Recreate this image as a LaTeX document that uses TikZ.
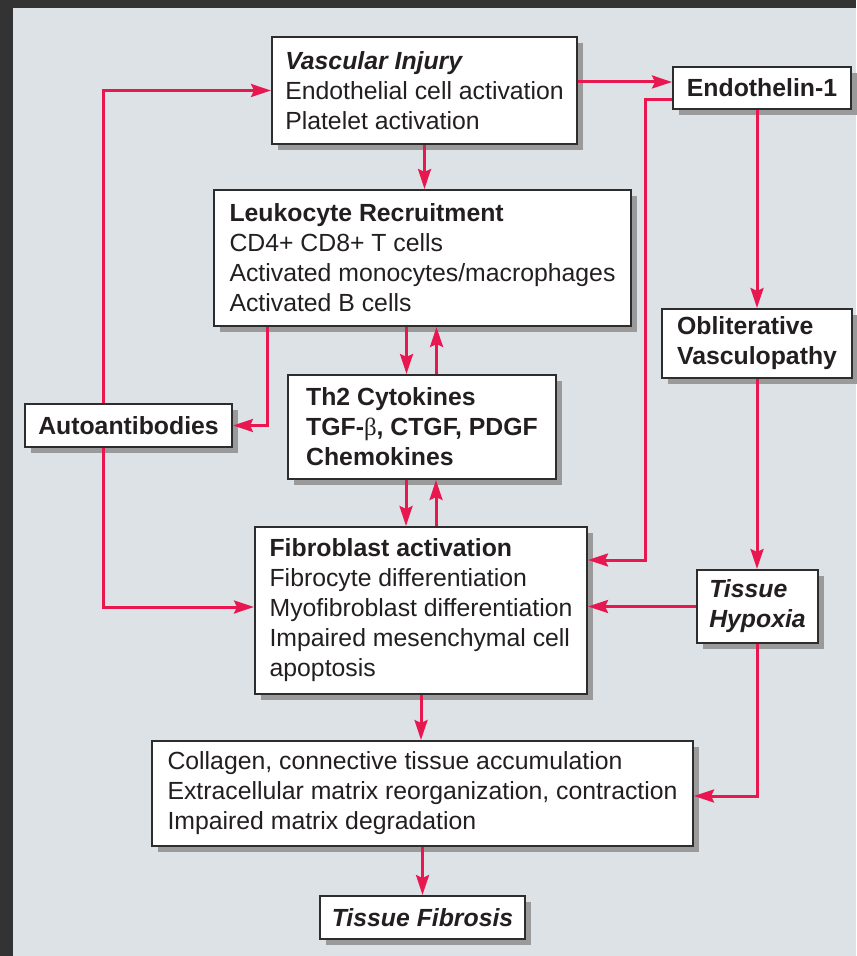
\documentclass[tikz,border=0pt]{standalone}
\usepackage{fontspec}
\setmainfont{Liberation Sans}
\newfontfamily\greekfont{Liberation Serif}
\usetikzlibrary{arrows.meta,shadows}

\definecolor{framegray}{HTML}{333333}
\definecolor{bggray}{HTML}{DCE2E6}
\definecolor{boxline}{HTML}{2D2D2D}
\definecolor{arrowred}{HTML}{E8174F}
\definecolor{inkblack}{HTML}{231F20}
\definecolor{shadowgray}{HTML}{9A9A9A}

\tikzset{
	box/.style={draw=boxline, line width=1pt, fill=white, text=inkblack,
		drop shadow={shadow xshift=3pt, shadow yshift=-3pt, fill=shadowgray, opacity=1},
		font=\fontsize{12.4}{15}\selectfont, inner sep=0pt, align=center},
	lbox/.style={box, align=left},
	arr/.style={draw=arrowred, line width=1.5pt,
		-{Stealth[length=10pt,width=6.5pt,inset=1.5pt]}}
}

\begin{document}
\begin{tikzpicture}[x=0.5pt, y=-0.5pt]
	
	\fill[framegray] (0,0) rectangle (856,956);
	\fill[bggray] (13,8) rectangle (856,956);
	\useasboundingbox (0,0) rectangle (856,956);
	
	\node[lbox, minimum width=152.5pt, minimum height=53.5pt] (vasc) at (424.5,90.5)
		{\textbf{\textit{Vascular Injury}}\\Endothelial cell activation\\Platelet activation};
	\node[box, minimum width=89pt, minimum height=21pt, font=\fontsize{12.4}{15}\selectfont\bfseries] (endo) at (762,88) {Endothelin-1};
	\node[lbox, minimum width=208.5pt, minimum height=68pt] (leuko) at (422.5,258)
		{\textbf{Leukocyte Recruitment}\\CD4+ CD8+ T cells\\Activated monocytes/macrophages\\Activated B cells};
	\node[lbox, minimum width=95pt, minimum height=34.5pt, font=\fontsize{12.4}{15}\selectfont\bfseries] (oblit) at (757,343.5)
		{Obliterative\\Vasculopathy};
	\node[box, minimum width=103.5pt, minimum height=21.5pt, font=\fontsize{12.4}{15}\selectfont\bfseries] (auto) at (128.5,425.5) {Autoantibodies};
	\node[lbox, minimum width=134pt, minimum height=52pt, font=\fontsize{12.4}{15}\selectfont\bfseries] (th2) at (422,427)
		{Th2 Cytokines\\TGF-{\greekfont\mdseries β}, CTGF, PDGF\\Chemokines};
	\node[lbox, minimum width=166pt, minimum height=83.5pt] (fibro) at (421,610.5)
		{\textbf{Fibroblast activation}\\Fibrocyte differentiation\\Myofibroblast differentiation\\Impaired mesenchymal cell\\apoptosis};
	\node[lbox, minimum width=60.5pt, minimum height=36.5pt, font=\fontsize{12.4}{15}\selectfont\bfseries\itshape] (hypox) at (757.5,606.5)
		{Tissue\\Hypoxia};
	\node[lbox, minimum width=270.5pt, minimum height=52.5pt] (coll) at (422.5,793.5)
		{Collagen, connective tissue accumulation\\Extracellular matrix reorganization, contraction\\Impaired matrix degradation};
	\node[box, minimum width=102.5pt, minimum height=21.5pt, font=\fontsize{12.4}{15}\selectfont\bfseries\itshape] (fibros) at (422.5,917.5) {Tissue Fibrosis};
	
	\draw[arr] ([yshift=3pt]endo.west -| vasc.east) -- ([yshift=3pt]endo.west);
	\draw[arr] ([yshift=-6pt]endo.west) -- ++(-13.5pt,0pt) |- ([yshift=25.25pt]fibro.east);
	\draw[arr] (oblit.north |- endo.south) -- (oblit.north);
	\draw[arr] (oblit.south) -- (oblit.south |- hypox.north);
	\draw[arr] (hypox.west) -- (hypox.west -| fibro.east);
	\draw[arr] (hypox.south) |- ([yshift=-1.25pt]coll.east);
	\draw[arr] (vasc.south) -- (vasc.south |- leuko.north);
	\draw[arr] ([xshift=-8pt]leuko.south) -- ([xshift=-8pt]leuko.south |- th2.north);
	\draw[arr] ([xshift=7pt]leuko.south |- th2.north) -- ([xshift=7pt]leuko.south);
	\draw[arr] ([xshift=-77.75pt]leuko.south) |- (auto.east);
	\draw[arr] ([xshift=-12.75pt]auto.north) |- (vasc.west);
	\draw[arr] ([xshift=-12.75pt]auto.south) |- ([yshift=1.75pt]fibro.west);
	\draw[arr] ([xshift=-8pt]th2.south) -- ([xshift=-8pt]th2.south |- fibro.north);
	\draw[arr] ([xshift=7pt]th2.south |- fibro.north) -- ([xshift=7pt]th2.south);
	\draw[arr] (fibro.south) -- (fibro.south |- coll.north);
	\draw[arr] (coll.south) -- (coll.south |- fibros.north);
	
\end{tikzpicture}
\end{document}
